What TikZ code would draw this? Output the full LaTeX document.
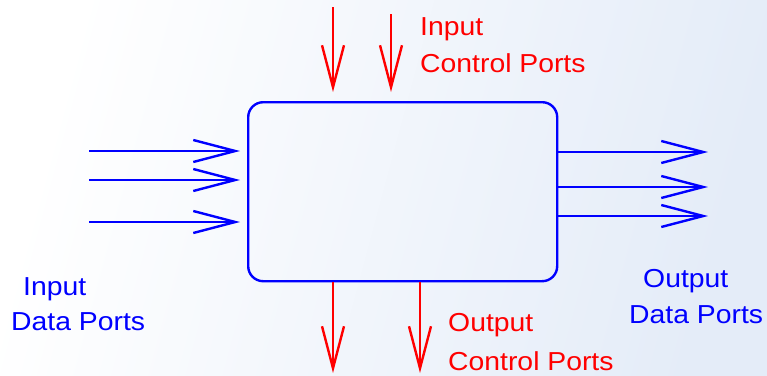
\documentclass[tikz,border=0pt]{standalone}
\usepackage{fontspec}
\setmainfont{Liberation Sans}
\newfontfamily\labfont[FakeStretch=1.09]{Liberation Sans}
\usetikzlibrary{arrows.meta}
\definecolor{bgblue}{RGB}{228,236,248}
\definecolor{pblue}{RGB}{0,0,255}
\definecolor{pred}{RGB}{255,0,0}
\tikzset{
  port/.style={line width=2.4pt, -{Straight Barb[length=42pt,width=22pt,line width=2.4pt]}},
  dataport/.style={port, pblue},
  ctrlport/.style={port, pred},
  lbl/.style={inner sep=0pt, anchor=base west, font=\labfont\fontsize{26}{30}\selectfont},
  bluelbl/.style={lbl, text=pblue},
  redlbl/.style={lbl, text=pred},
  block/.style={draw=pblue, line width=2.4pt, rounded corners=15pt, minimum width=309pt, minimum height=179pt, inner sep=0pt}
}
\begin{document}
\begin{tikzpicture}[x=1pt,y=-1pt]
\shade[left color=white, right color=bgblue, shading angle=75] (0,0) rectangle (767,375);
\useasboundingbox (0,0) rectangle (767,375);
\node[block, anchor=north west] (box) at (247,101) {};
% input data ports
\coordinate (idA) at (89,151);
\coordinate (idB) at (89,180);
\coordinate (idC) at (89,222);
\coordinate (idAe) at (240,151);
\coordinate (idBe) at (240,180);
\coordinate (idCe) at (240,222);
\draw[dataport] (idA) -- (idAe);
\draw[dataport] (idB) -- (idBe);
\draw[dataport] (idC) -- (idCe);
% output data ports
\coordinate (odA) at (708,152);
\coordinate (odB) at (708,187);
\coordinate (odC) at (708,216);
\draw[dataport] (box.west |- odA) ++(309,0) -- (odA);
\draw[dataport] (box.west |- odB) ++(309,0) -- (odB);
\draw[dataport] (box.west |- odC) ++(309,0) -- (odC);
% input control ports
\coordinate (icA) at (333,7);
\coordinate (icB) at (391,14);
\coordinate (icAe) at (333,92);
\coordinate (icBe) at (391,92);
\draw[ctrlport] (icA) -- (icAe);
\draw[ctrlport] (icB) -- (icBe);
% output control ports
\coordinate (ocA) at (333,373);
\coordinate (ocB) at (420,373);
\draw[ctrlport] (box.south -| ocA) -- (ocA);
\draw[ctrlport] (box.south -| ocB) -- (ocB);
% labels
\node[redlbl] (icl1) at (420,35) {Input};
\node[redlbl] (icl2) at (420,72) {Control Ports};
\node[bluelbl] (idl1) at (23,295) {Input};
\node[bluelbl] (idl2) at (11,330) {Data Ports};
\node[bluelbl] (odl1) at (643,287) {Output};
\node[bluelbl] (odl2) at (629,323) {Data Ports};
\node[redlbl] (ocl1) at (448,331) {Output};
\node[redlbl] (ocl2) at (448,370) {Control Ports};
\end{tikzpicture}
\end{document}
